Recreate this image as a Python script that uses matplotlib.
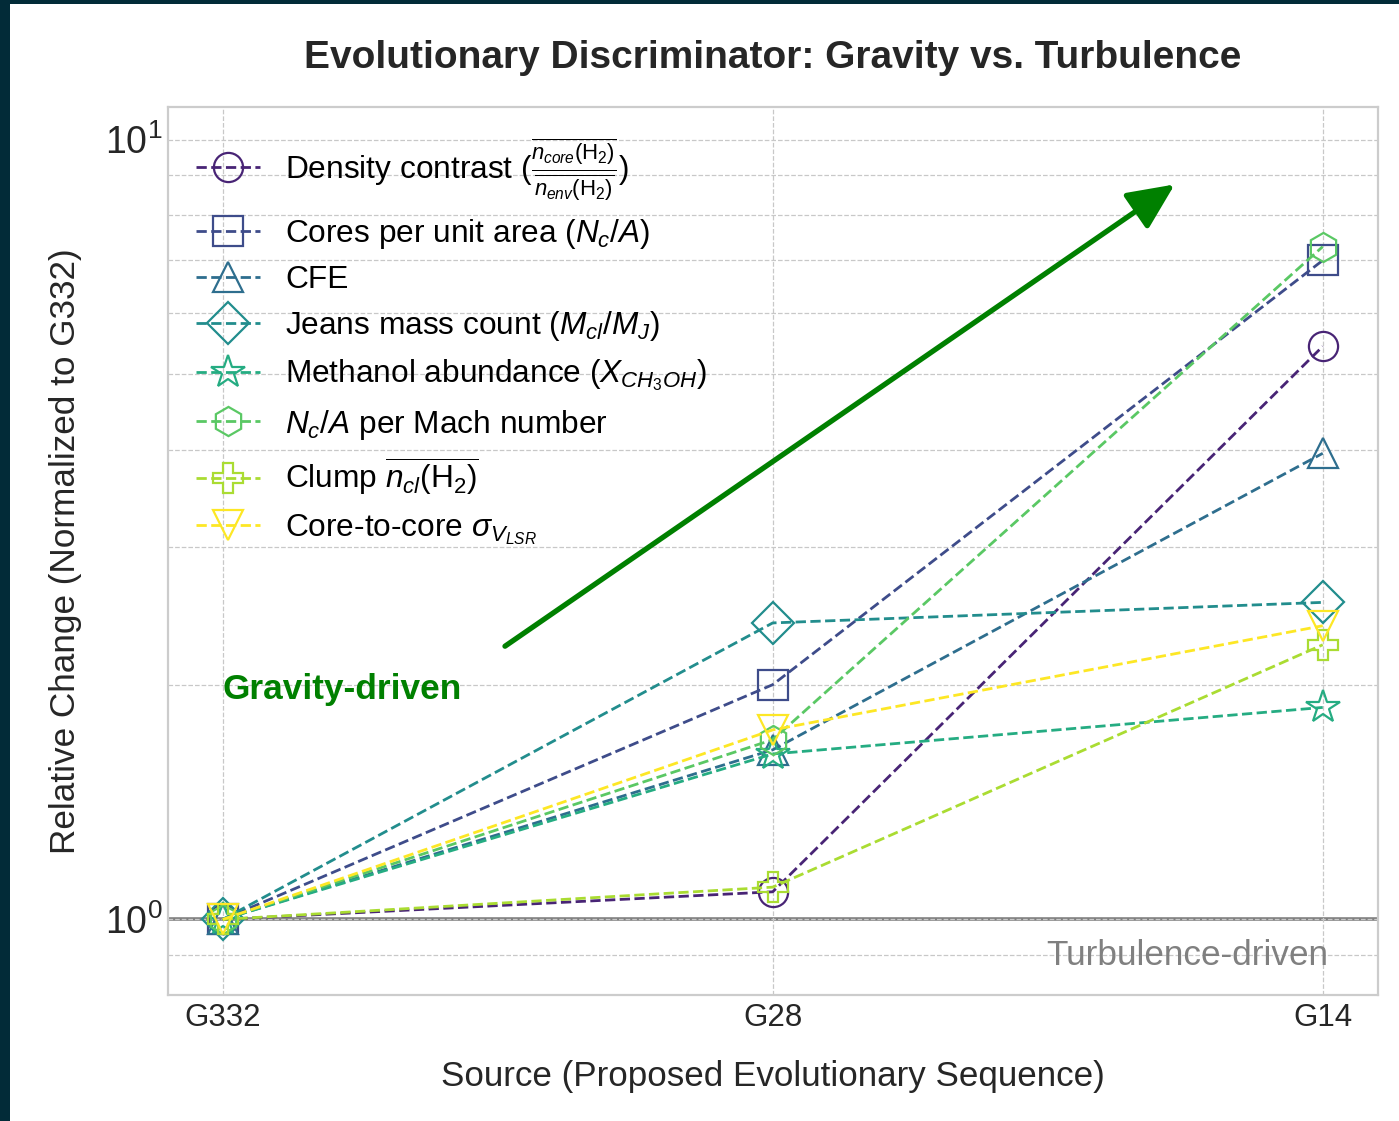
import matplotlib
matplotlib.use('Agg')

import numpy as np
import matplotlib.pyplot as plt
from matplotlib.patches import Rectangle

# data (values normalised to G332)
sources = ['G332', 'G28', 'G14']
density_contrast = [1.0, 1.085, 5.43]
cores_per_area = [1.0, 2.0, 7.0]
cfe = [1.0, 1.65, 3.96]
jeans_count = [1.0, 2.40, 2.55]
methanol = [1.0, 1.63, 1.87]
nc_per_mach = [1.0, 1.70, 7.29]
clump_density = [1.0, 1.10, 2.25]
sigma_vlsr = [1.0, 1.75, 2.38]

labels = [
    r'Density contrast ($\frac{\overline{n_{core}(\mathrm{H_2})}}{\overline{n_{env}(\mathrm{H_2})}}$)',
    r'Cores per unit area ($N_c/A$)',
    'CFE',
    r'Jeans mass count ($M_{cl}/M_J$)',
    r'Methanol abundance ($X_{CH_3OH}$)',
    r'$N_c/A$ per Mach number',
    r'Clump $\overline{n_{cl}(\mathrm{H_2})}$',
    r'Core-to-core $\sigma_{V_{LSR}}$',
]
series = [density_contrast, cores_per_area, cfe, jeans_count,
          methanol, nc_per_mach, clump_density, sigma_vlsr]
markers = ['o', 's', '^', 'D', '*', 'h', 'P', 'v']

plt.rcParams['font.family'] = ['Liberation Sans', 'DejaVu Sans']
plt.rcParams['mathtext.fontset'] = 'custom'
plt.rcParams['mathtext.rm'] = 'Liberation Sans'
plt.rcParams['mathtext.it'] = 'Liberation Sans:italic'
plt.rcParams['mathtext.bf'] = 'Liberation Sans:bold'

colors = plt.cm.viridis(np.linspace(0.1, 1.0, len(series)))

fig = plt.figure(figsize=(13.99, 11.21), dpi=100)
fig.patch.set_facecolor('#022b38')
# white page area (the dark strip is the surrounding frame)
fig.add_artist(Rectangle((10 / 1399, 0), 1 - 10 / 1399, 1 - 4 / 1121,
                         transform=fig.transFigure, facecolor='white',
                         edgecolor='none', zorder=-5))
ax = fig.add_axes([0.1199, 0.1124, 0.8649, 0.7919])
ax.set_facecolor('white')

x = np.arange(len(sources))
for vals, lab, mk, col in zip(series, labels, markers, colors):
    ms = 21
    if mk == '*':
        ms = 25
    ax.plot(x, vals, linestyle='--', lw=2, color=col, marker=mk, ms=ms,
            mfc='none', mec=col, mew=1.6, label=lab)

ax.axhline(1.0, color='#808080', lw=2.6, zorder=1)

ax.set_yscale('log')
ax.set_ylim(0.8, 11)
ax.set_xlim(-0.1, 2.1)
ax.set_xticks(x)
ax.set_xticklabels(sources)

ax.grid(True, which='both', axis='both', linestyle='--', color='#c8c8c8', lw=0.9)
ax.tick_params(axis='both', which='both', length=0, labelcolor='#262626')
ax.tick_params(axis='x', labelsize=22.5, pad=6)
ax.tick_params(axis='y', labelsize=27, pad=4)
for sp in ax.spines.values():
    sp.set_color('#cccccc')
    sp.set_linewidth(1.6)

# trend arrow and annotations
ax.annotate('', xy=(1.735, 8.8), xytext=(0.509, 2.23),
            arrowprops=dict(arrowstyle='-|>,head_length=1.3,head_width=0.6',
                            color='green', lw=3.8, mutation_scale=22))
ax.text(0.0, 1.97, 'Gravity-driven', color='green', fontsize=25.4,
        fontweight='bold', ha='left', va='center')
ax.text(2.01, 0.9, 'Turbulence-driven', color='#808080', fontsize=25.3,
        ha='right', va='center')

ax.set_title('Evolutionary Discriminator: Gravity vs. Turbulence',
             fontsize=28, fontweight='bold', pad=28, color='#262626')
ax.set_xlabel('Source (Proposed Evolutionary Sequence)', fontsize=25.2,
              labelpad=19, color='#262626')
ax.set_ylabel('Relative Change (Normalized to G332)', fontsize=25.3,
              labelpad=16, color='#262626')

ax.legend(loc='upper left', fontsize=22.8, frameon=False, labelspacing=0.45)

fig.savefig('out.png', dpi=100, facecolor=fig.get_facecolor())
